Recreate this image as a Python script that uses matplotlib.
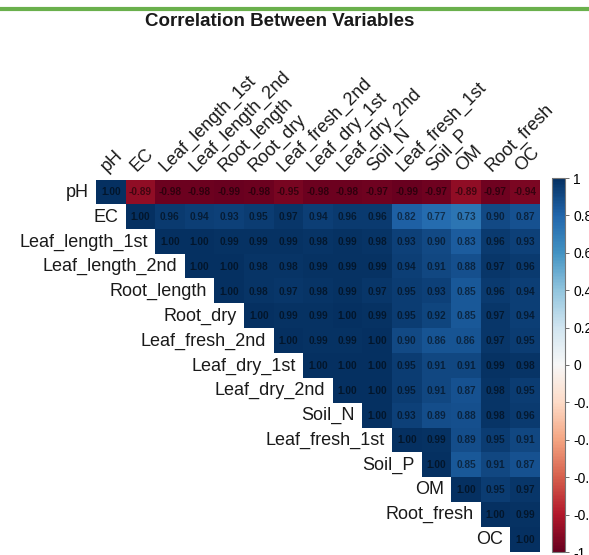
import numpy as np
import matplotlib
matplotlib.use('Agg')
import matplotlib.pyplot as plt
from matplotlib.lines import Line2D

plt.rcParams['font.family'] = ['Liberation Sans', 'DejaVu Sans']

variables = ['pH', 'EC', 'Leaf_length_1st', 'Leaf_length_2nd', 'Root_length',
             'Root_dry', 'Leaf_fresh_2nd', 'Leaf_dry_1st', 'Leaf_dry_2nd',
             'Soil_N', 'Leaf_fresh_1st', 'Soil_P', 'OM', 'Root_fresh', 'OC']

# upper triangle of the correlation matrix, one row per variable (from the diagonal)
row_pH = [1.00, -0.89, -0.98, -0.98, -0.99, -0.98, -0.95, -0.98, -0.98, -0.97, -0.99, -0.97, -0.89, -0.97, -0.94]
row_EC = [1.00, 0.96, 0.94, 0.93, 0.95, 0.97, 0.94, 0.96, 0.96, 0.82, 0.77, 0.73, 0.90, 0.87]
row_LL1 = [1.00, 1.00, 0.99, 0.99, 0.99, 0.98, 0.99, 0.98, 0.93, 0.90, 0.83, 0.96, 0.93]
row_LL2 = [1.00, 1.00, 0.98, 0.98, 0.99, 0.99, 0.99, 0.94, 0.91, 0.88, 0.97, 0.96]
row_RL = [1.00, 0.98, 0.97, 0.98, 0.99, 0.97, 0.95, 0.93, 0.85, 0.96, 0.94]
row_RD = [1.00, 0.99, 0.99, 1.00, 0.99, 0.95, 0.92, 0.85, 0.97, 0.94]
row_LF2 = [1.00, 0.99, 0.99, 1.00, 0.90, 0.86, 0.86, 0.97, 0.95]
row_LD1 = [1.00, 1.00, 1.00, 0.95, 0.91, 0.91, 0.99, 0.98]
row_LD2 = [1.00, 1.00, 0.95, 0.91, 0.87, 0.98, 0.95]
row_SN = [1.00, 0.93, 0.89, 0.88, 0.98, 0.96]
row_LF1 = [1.00, 0.99, 0.89, 0.95, 0.91]
row_SP = [1.00, 0.85, 0.91, 0.87]
row_OM = [1.00, 0.95, 0.97]
row_RF = [1.00, 0.99]
row_OC = [1.00]

rows = [row_pH, row_EC, row_LL1, row_LL2, row_RL, row_RD, row_LF2, row_LD1,
        row_LD2, row_SN, row_LF1, row_SP, row_OM, row_RF, row_OC]
cbar_ticks = [1, 0.8, 0.6, 0.4, 0.2, 0, -0.2, -0.4, -0.6, -0.8, -1]

n = len(variables)
M = np.full((n, n), np.nan)
for i, r in enumerate(rows):
    M[i, i:] = r
M = np.ma.masked_invalid(M)

W, H = 589, 555
fig = plt.figure(figsize=(W / 100, H / 100), dpi=100)

# green rule at the top
fig.add_artist(Line2D([0, 1], [1 - 9 / H, 1 - 9 / H], color='#6ab04c', lw=3,
                      transform=fig.transFigure))
fig.text(280 / W, 1 - 22 / H, 'Correlation Between Variables', ha='center', va='center',
         fontsize=13.5, fontweight='bold', color='#1a1a1a')

gl, gr, gt, gb = 96, 540, 180, 552
ax = fig.add_axes([gl / W, 1 - gb / H, (gr - gl) / W, (gb - gt) / H])
cmap = plt.get_cmap('RdBu').copy()
cmap.set_bad((1, 1, 1, 0))
im = ax.imshow(M, cmap=cmap, vmin=-1, vmax=1, aspect='auto', interpolation='nearest')
ax.set_xlim(-0.5, n - 0.5)
ax.set_ylim(n - 0.5, -0.5)
ax.axis('off')

for i in range(n):
    for j in range(i, n):
        ax.text(j, i, '%.2f' % M[i, j], ha='center', va='center', fontsize=7.3,
                fontweight='bold', color='black', alpha=0.55)
    # row label left of the diagonal cell
    ax.text(i - 0.5 - 0.25, i, variables[i], ha='right', va='center', fontsize=13,
            color='#1a1a1a')
    # column label rotated on top
    ax.text(i - 0.05, -0.5 - 0.2, variables[i], ha='left', va='bottom', rotation=45,
            rotation_mode='anchor', fontsize=13, color='#1a1a1a')

cax = fig.add_axes([552 / W, 1 - 552 / H, 13 / W, (552 - 178) / H])
cb = fig.colorbar(im, cax=cax, ticks=cbar_ticks)
cb.ax.set_yticklabels([('%g' % t) for t in cbar_ticks], fontsize=10)
cb.ax.tick_params(length=3, width=0.6, color='#555555', pad=3)
cb.outline.set_edgecolor('#777777')
cb.outline.set_linewidth(0.8)

fig.savefig('out.png', dpi=100)
